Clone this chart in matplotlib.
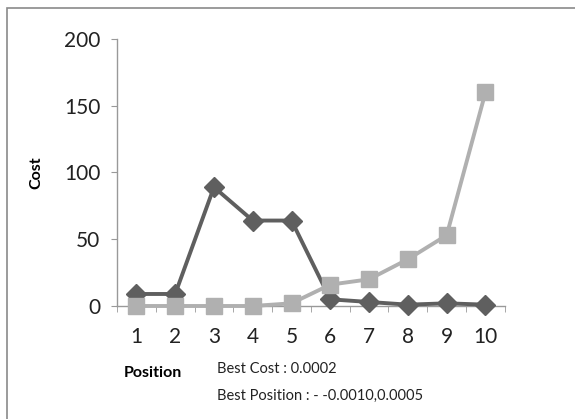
import matplotlib.pyplot as plt
from matplotlib.patches import Rectangle
from matplotlib.ticker import FixedLocator

plt.rcParams['font.family'] = ['Lato', 'DejaVu Sans']

positions = [1, 2, 3, 4, 5, 6, 7, 8, 9, 10]
dark_cost = [9, 9, 89, 64, 64, 5, 3, 1, 2, 1]
light_cost = [0, 0, 0, 0, 2, 16, 20, 35, 53, 160]
y_ticks = [0, 50, 100, 150, 200]

fig = plt.figure(figsize=(5.75, 4.19), dpi=100)
ax = fig.add_axes([0.2035, 0.2697, 0.6745, 0.6373])

ax.plot(positions, dark_cost, color='#5f5f5f', lw=2.8, marker='D',
        markersize=10.5, zorder=3)
ax.plot(positions, light_cost, color='#b0b0b0', lw=2.8, marker='s',
        markersize=11, zorder=4)

ax.set_xlim(0.5, 10.5)
ax.set_ylim(0, 200)
ax.set_yticks(y_ticks)
ax.set_xticks(positions)
ax.xaxis.set_minor_locator(FixedLocator([p + 0.5 for p in range(0, 11)]))
ax.tick_params(axis='x', which='major', length=0, pad=15, labelsize=15,
               colors='#222222')
ax.tick_params(axis='x', which='minor', length=4, color='#999999',
               direction='out')
ax.tick_params(axis='y', length=4, pad=8, labelsize=15, color='#999999',
               labelcolor='#222222')

for s in ['top', 'right']:
    ax.spines[s].set_visible(False)
for s in ['left', 'bottom']:
    ax.spines[s].set_color('#999999')
    ax.spines[s].set_linewidth(1)
for line in ax.lines:
    line.set_clip_on(False)

ax.set_ylabel('Cost', fontsize=11.5, fontweight='bold')
ax.yaxis.set_label_coords(-0.19, 0.5)

fig.text(153 / 575, 1 - 373 / 419, 'Position', fontsize=11.5,
         fontweight='bold', ha='center', va='center')
fig.text(217 / 575, 1 - 369 / 419, 'Best Cost : 0.0002', fontsize=10.5,
         ha='left', va='center', color='#222222')
fig.text(217 / 575, 1 - 396 / 419, 'Best Position : - -0.0010,0.0005',
         fontsize=10.5, ha='left', va='center', color='#222222')

fig.patches.append(Rectangle((7 / 575, -0.1), 1.2, 1 - 8 / 419 + 0.1,
                             transform=fig.transFigure, fill=False,
                             edgecolor='#8a8a8a', lw=1.2))

fig.savefig('out.png', dpi=100)
